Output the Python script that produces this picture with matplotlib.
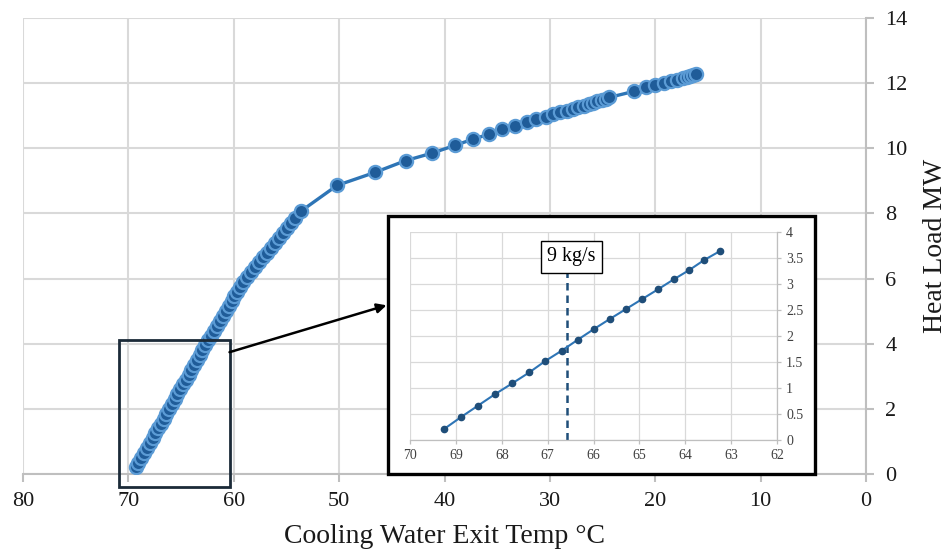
import matplotlib.pyplot as plt
from matplotlib.patches import Rectangle

plt.rcParams['font.family'] = ['Liberation Serif', 'DejaVu Serif']

# main curve: cooling water exit temp (C) vs heat load (MW)
exit_temp = [69.30, 69.04, 68.77, 68.51, 68.24, 67.98, 67.71, 67.45, 67.18, 66.92,
             66.66, 66.39, 66.13, 65.86, 65.60, 65.34, 65.07, 64.81, 64.55, 64.28,
             64.02, 63.76, 63.49, 63.23, 62.97, 62.71, 62.44, 62.16, 61.88, 61.60,
             61.33, 61.05, 60.77, 60.49, 60.21, 59.94, 59.66, 59.38, 59.10, 58.77,
             58.39, 58.01, 57.62, 57.24, 56.86, 56.47, 56.09, 55.71, 55.33, 54.94,
             54.56, 54.18, 53.62,
             50.2, 46.6, 43.7, 41.2, 39.0, 37.3, 35.8, 34.5, 33.3, 32.2, 31.3, 30.4,
             29.7, 29.0, 28.4, 27.8, 27.3, 26.8, 26.3, 25.9, 25.5, 25.1, 24.7, 24.4,
             22.0, 20.9, 20.0, 19.2, 18.5, 17.9, 17.4, 17.0, 16.7, 16.4, 16.1]
heat_load = [0.20, 0.35, 0.50, 0.65, 0.80, 0.95, 1.10, 1.25, 1.40, 1.55,
             1.70, 1.85, 2.00, 2.15, 2.30, 2.45, 2.60, 2.75, 2.90, 3.05,
             3.20, 3.35, 3.50, 3.65, 3.80, 3.95, 4.10, 4.25, 4.40, 4.55,
             4.70, 4.85, 5.00, 5.15, 5.30, 5.45, 5.60, 5.75, 5.90, 6.05,
             6.20, 6.35, 6.50, 6.65, 6.80, 6.95, 7.10, 7.25, 7.40, 7.55,
             7.70, 7.85, 8.07,
             8.86, 9.26, 9.62, 9.85, 10.09, 10.28, 10.43, 10.58, 10.68, 10.80, 10.90, 10.97,
             11.04, 11.10, 11.15, 11.20, 11.26, 11.30, 11.35, 11.40, 11.44, 11.48, 11.52, 11.56,
             11.75, 11.87, 11.94, 12.00, 12.06, 12.11, 12.15, 12.18, 12.21, 12.24, 12.27]

# zoomed detail (inset)
zoom_temp = [69.26, 68.89, 68.52, 68.15, 67.77, 67.40, 67.05, 66.69, 66.34,
             65.98, 65.64, 65.29, 64.94, 64.59, 64.25, 63.91, 63.59, 63.25]
zoom_load = [0.21, 0.44, 0.66, 0.88, 1.09, 1.30, 1.52, 1.72, 1.93,
             2.14, 2.33, 2.52, 2.71, 2.90, 3.09, 3.27, 3.46, 3.63]
flow_temp = 66.58
flow_label = '9 kg/s'

main_xticks = [80, 70, 60, 50, 40, 30, 20, 10, 0]
main_yticks = [0, 2, 4, 6, 8, 10, 12, 14]
zoom_xticks = [70, 69, 68, 67, 66, 65, 64, 63, 62]
zoom_yticks = [0, 0.5, 1, 1.5, 2, 2.5, 3, 3.5, 4]

grid_c = '#D9D9D9'
axis_c = '#BFBFBF'
text_c = '#1A1A1A'

fig = plt.figure(figsize=(9.5, 5.56), dpi=100)
ax = fig.add_axes([0.0242, 0.1475, 0.8874, 0.8201])

ax.plot(exit_temp, heat_load, '-o', color='#2E75B6', lw=2.4, ms=9.5,
        mfc='#1F5C99', mec='#5B9BD5', mew=1.6, zorder=3)

ax.set_xlim(80, 0)
ax.set_ylim(0, 14)
ax.set_xticks(main_xticks)
ax.set_yticks(main_yticks)
ax.yaxis.tick_right()
ax.yaxis.set_label_position('right')
ax.grid(True, color=grid_c, lw=1.5)
ax.set_axisbelow(True)
for s in ['top', 'left']:
    ax.spines[s].set_visible(False)
for s in ['bottom', 'right']:
    ax.spines[s].set_color(axis_c)
    ax.spines[s].set_linewidth(1.5)
ax.tick_params(axis='both', colors=axis_c, width=1.5, length=6, labelsize=16,
               labelcolor=text_c)
ax.tick_params(axis='y', pad=8)
ax.tick_params(axis='x', pad=7)
ax.set_xlabel('Cooling Water Exit Temp °C', fontsize=20, color=text_c, labelpad=9)
ax.set_ylabel('Heat Load MW', fontsize=20, color=text_c, labelpad=11)

# box marking the zoomed region, and arrow to the inset
ax.add_patch(Rectangle((70.9, -0.4), -10.5, 4.51, fill=False, ec='#1B2A38', lw=2,
                       clip_on=False, zorder=4))
ax.annotate('', xy=(45.5, 5.18), xytext=(60.4, 3.74),
            arrowprops=dict(arrowstyle='-|>', color='black', lw=1.8,
                            mutation_scale=14, shrinkA=0, shrinkB=0), zorder=4)

# inset frame
fig.add_artist(Rectangle((0.4084, 0.1475), 0.4495, 0.464, transform=fig.transFigure,
                         fc='white', ec='black', lw=2.4, zorder=5))

ins = fig.add_axes([0.4316, 0.2086, 0.3863, 0.3741], zorder=6)
ins.patch.set_alpha(0)
ins.plot(zoom_temp, zoom_load, '-o', color='#2E75B6', lw=1.5, ms=4.5,
         mfc='#1F4E79', mec='#1F4E79', zorder=3)
ins.set_xlim(70, 62)
ins.set_ylim(0, 4)
ins.set_xticks(zoom_xticks)
ins.set_yticks(zoom_yticks)
ins.set_yticklabels(['0', '0.5', '1', '1.5', '2', '2.5', '3', '3.5', '4'])
ins.yaxis.tick_right()
ins.grid(True, color=grid_c, lw=0.9)
ins.set_axisbelow(True)
for s in ['top', 'left']:
    ins.spines[s].set_visible(False)
for s in ['bottom', 'right']:
    ins.spines[s].set_color(axis_c)
    ins.spines[s].set_linewidth(0.9)
ins.tick_params(axis='both', colors=axis_c, width=0.9, length=3, labelsize=10,
                labelcolor='#404040')

ins.plot([flow_temp, flow_temp], [0, 3.22], ls=(0, (3, 2)), color='#1F4E79', lw=1.8,
         zorder=2)
ins.text(66.48, 3.52, flow_label, fontsize=14.5, ha='center', va='center', color='black',
         bbox=dict(boxstyle='square,pad=0.3', fc='white', ec='black', lw=1), zorder=4)

plt.savefig('out.png', dpi=100)
